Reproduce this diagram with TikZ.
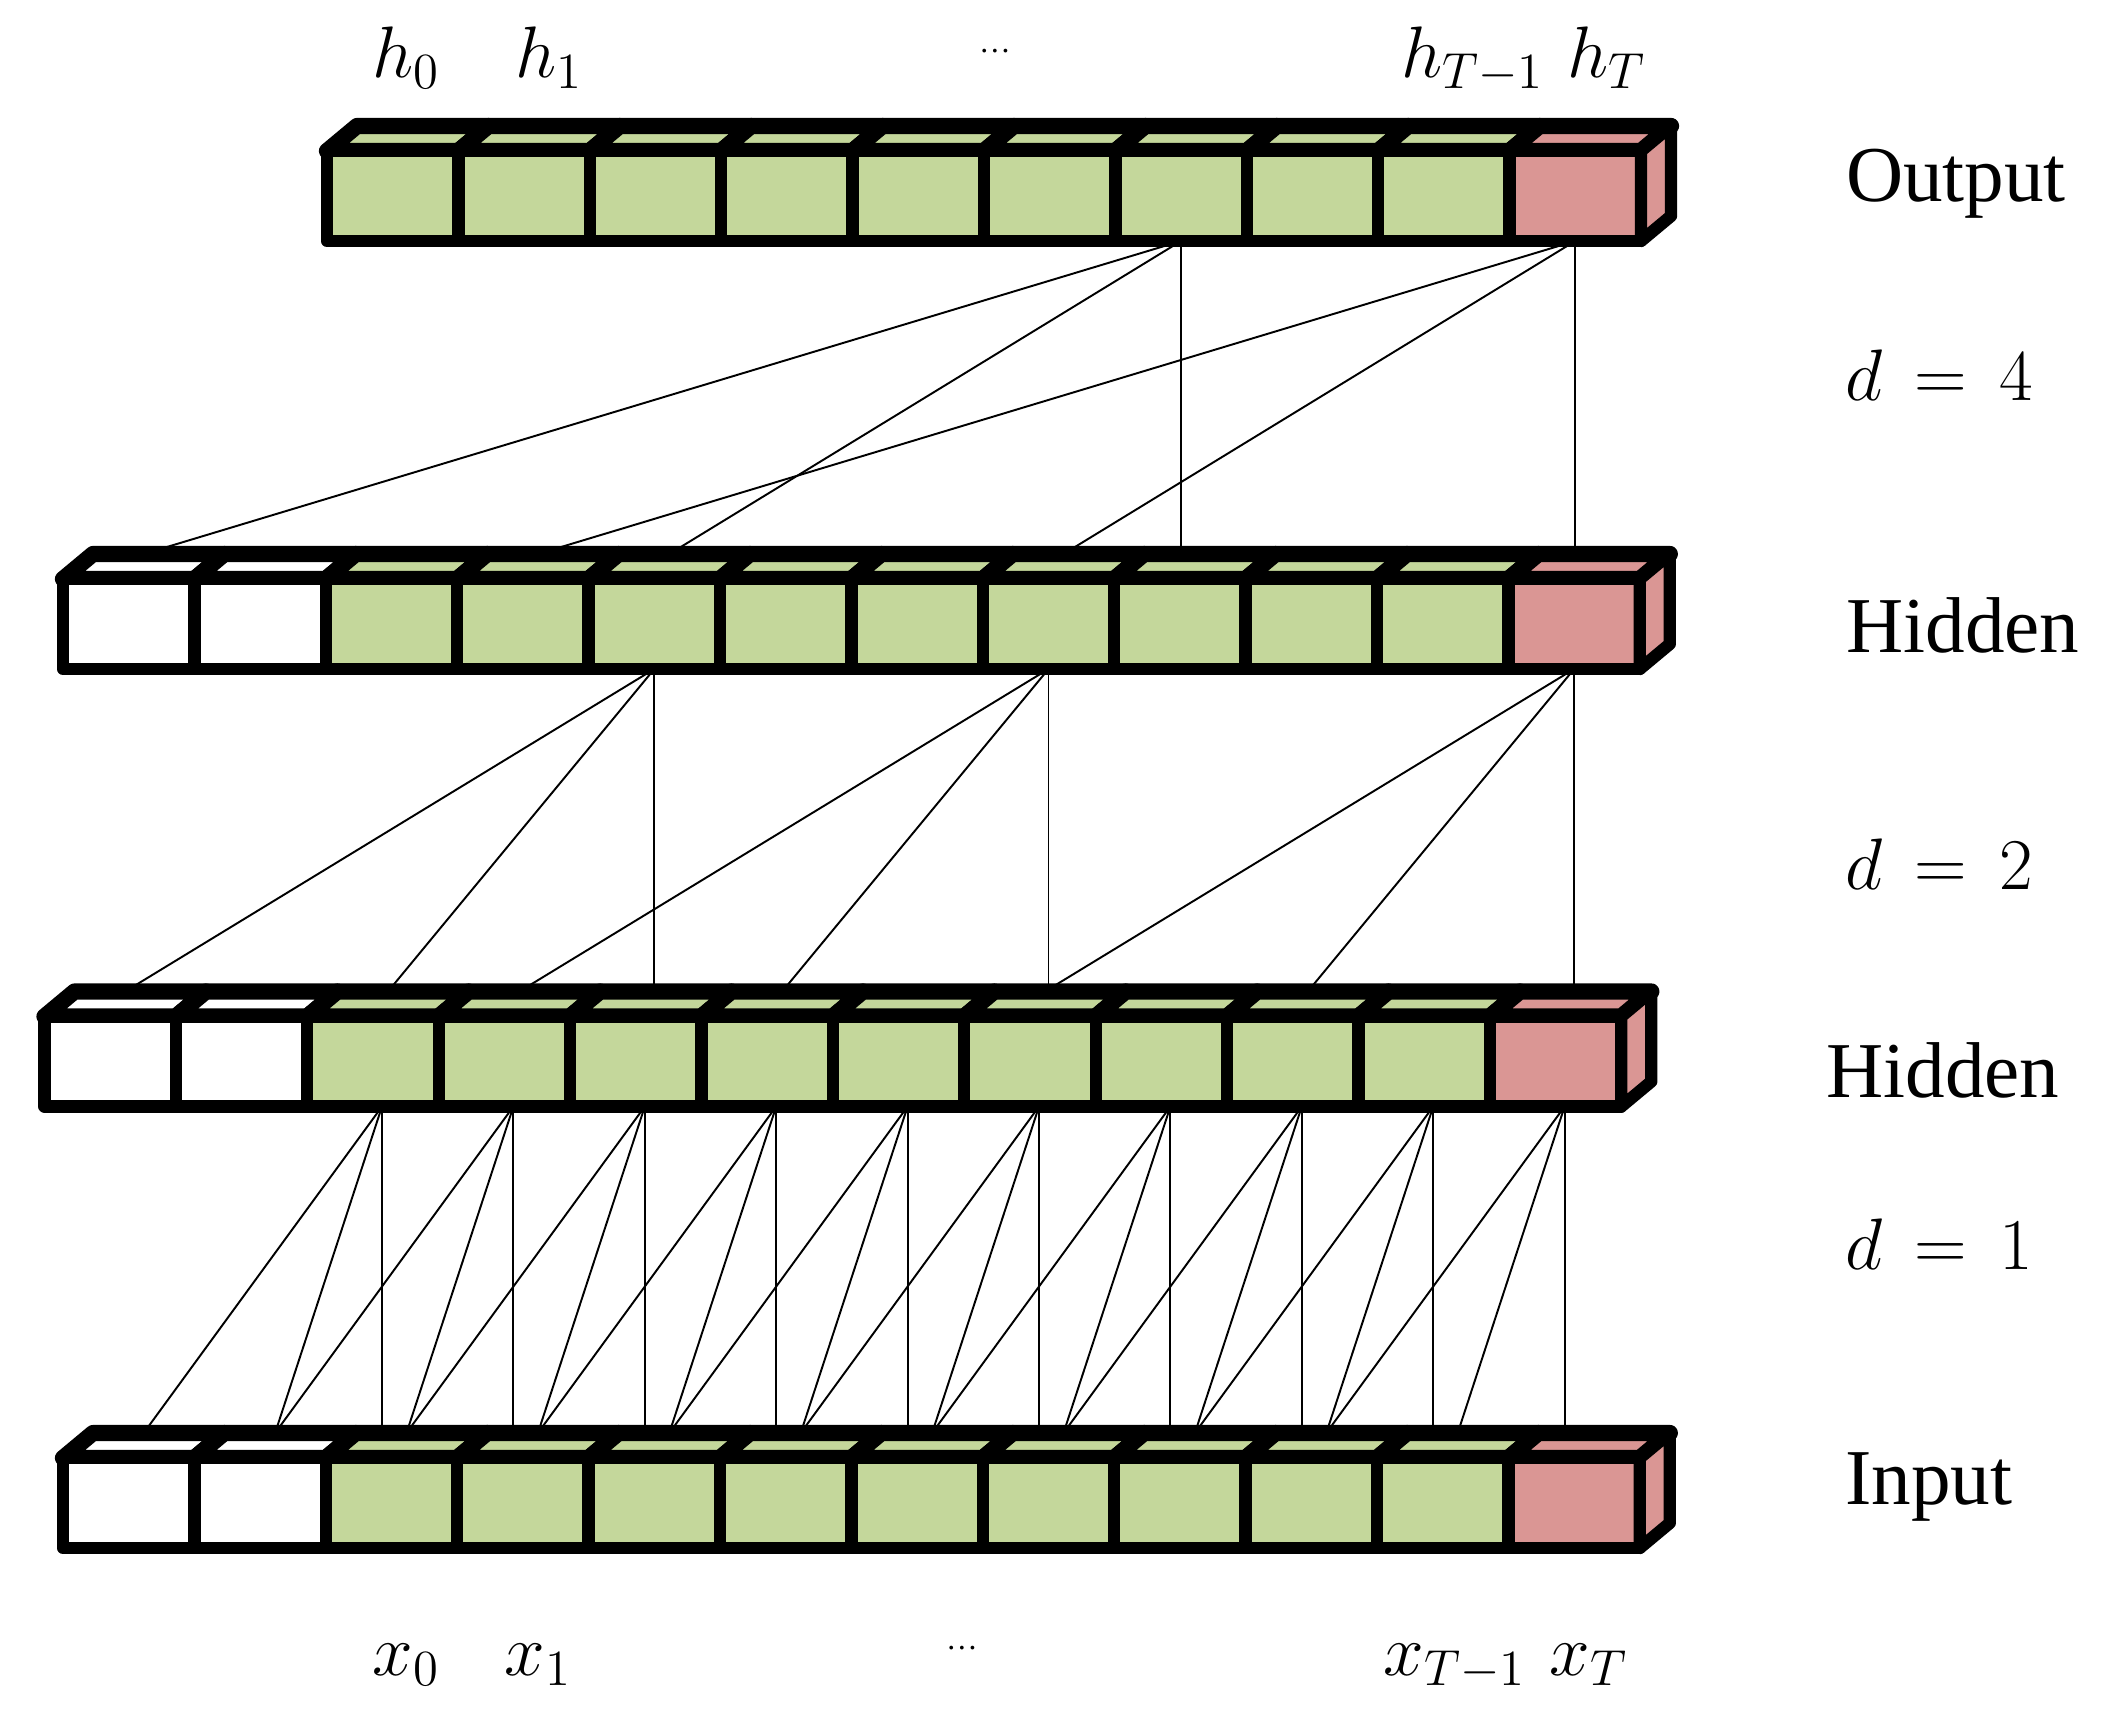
\documentclass[tikz,border=0pt]{standalone}
\usepackage{fontspec}
\setmainfont{Liberation Serif}
\usetikzlibrary{backgrounds}
\definecolor{cgreen}{RGB}{196,215,155}
\definecolor{cred}{RGB}{218,150,148}
\def\pitch{131.4}
\def\hgt{90}
\def\ddx{30}
\def\ddy{-25}
% #1 name, #2 left x, #3 front top y, #4 number of cells, #5 number of white cells, #6 source x offset
\newcommand\rowcells[6]{%
  \foreach \i in {1,...,#4}{%
    \pgfmathsetmacro\xa{#2+(\i-1)*\pitch}%
    \pgfmathsetmacro\xb{#2+\i*\pitch}%
    \pgfmathsetmacro\xm{#2+(\i-0.5)*\pitch}%
    \pgfmathtruncatemacro\k{\i-1}%
    \ifnum\i>#5\relax
      \ifnum\i=#4\relax\def\fc{cred}\else\def\fc{cgreen}\fi
    \else\def\fc{white}\fi
    \filldraw[topface,fill=\fc] (\xa,#3) -- (\xb,#3) -- (\xb+\ddx,#3+\ddy) -- (\xa+\ddx,#3+\ddy) -- cycle;
    \coordinate (#1-b-\k) at (\xm+#6,#3+\hgt);
    \coordinate (#1-t-\k) at (\xm+15,#3+\ddy);
  }%
  \foreach \i in {1,...,#4}{%
    \pgfmathsetmacro\xa{#2+(\i-1)*\pitch}%
    \pgfmathsetmacro\xb{#2+\i*\pitch}%
    \ifnum\i>#5\relax
      \ifnum\i=#4\relax\def\fc{cred}\else\def\fc{cgreen}\fi
    \else\def\fc{white}\fi
    \filldraw[cellbox,fill=\fc] (\xa,#3) rectangle (\xb,#3+\hgt);
  }%
  \pgfmathsetmacro\xr{#2+#4*\pitch}%
  \filldraw[cellbox,fill=cred] (\xr,#3) -- (\xr+\ddx,#3+\ddy) -- (\xr+\ddx,#3+\hgt+\ddy) -- (\xr,#3+\hgt) -- cycle;
}
\begin{document}
\begin{tikzpicture}[x=0.01cm,y=-0.01cm,
  cellbox/.style={draw=black,line width=3.5pt,line join=round},
  topface/.style={draw=black,line width=4.6pt,line join=round},
  conn/.style={draw=black,line width=0.55pt},
  lab/.style={font=\fontsize{22.5}{27}\selectfont,inner sep=0pt,anchor=base},
  mlab/.style={font=\fontsize{21}{25}\selectfont,inner sep=0pt,anchor=base},
  dots/.style={font=\fontsize{9}{10}\selectfont,inner sep=0pt}]
\useasboundingbox (0,0) rectangle (2109,1716);

% rows
\rowcells{out}{327}{151}{10}{0}{0}
\rowcells{hA}{63}{579}{12}{2}{0}
\rowcells{hB}{44.5}{1016.5}{12}{2}{9}
\rowcells{in}{63}{1458}{12}{2}{0}

% connectors
\begin{pgfonlayer}{background}
  % d = 4
  \foreach \s/\a/\b/\c in {6/8/4/0, 9/11/7/3}{
    \draw[conn] (out-b-\s) -- (out-b-\s |- hA-t-\a);
    \draw[conn] (out-b-\s) -- (hA-t-\b);
    \draw[conn] (out-b-\s) -- (hA-t-\c);
  }
  % d = 2
  \foreach \s/\b/\c in {4/2/0, 7/5/3, 11/9/7}{
    \draw[conn] (hA-b-\s) -- (hA-b-\s |- hB-t-\s);
    \draw[conn] (hA-b-\s) -- (hB-t-\b);
    \draw[conn] (hA-b-\s) -- (hB-t-\c);
  }
  % d = 1
  \foreach \s in {2,...,11}{
    \pgfmathtruncatemacro\b{\s-1}
    \pgfmathtruncatemacro\c{\s-2}
    \draw[conn] (hB-b-\s) -- (hB-b-\s |- in-t-\s);
    \draw[conn] (hB-b-\s) -- (in-t-\b);
    \draw[conn] (hB-b-\s) -- (in-t-\c);
  }
\end{pgfonlayer}

% top labels
\node[mlab] (lh0) at (406,78) {$h_0$};
\node[mlab] (lh1) at (549,78) {$h_1$};
\node[dots] (ldt) at (995,51) {\textellipsis};
\node[mlab] (lhT1) at (1473,78) {$h_{T-1}$};
\node[mlab] (lhT) at (1607,78) {$h_T$};

% bottom labels
\node[mlab] (lx0) at (406,1675) {$x_0$};
\node[mlab] (lx1) at (538,1675) {$x_1$};
\node[dots] (ldb) at (962,1648) {\textellipsis};
\node[mlab] (lxT1) at (1455,1675) {$x_{T-1}$};
\node[mlab] (lxT) at (1589,1675) {$x_T$};

% right labels
\node[lab] (lout) at (1956,202) {Output};
\node[mlab] (ld4) at (1939,401) {$d\,=\,4$};
\node[lab] (lhid1) at (1963,653) {Hidden};
\node[mlab] (ld2) at (1939,890) {$d\,=\,2$};
\node[lab] (lhid2) at (1943,1097) {Hidden};
\node[mlab] (ld1) at (1939,1269) {$d\,=\,1$};
\node[lab] (linp) at (1929,1504) {Input};
\end{tikzpicture}
\end{document}
